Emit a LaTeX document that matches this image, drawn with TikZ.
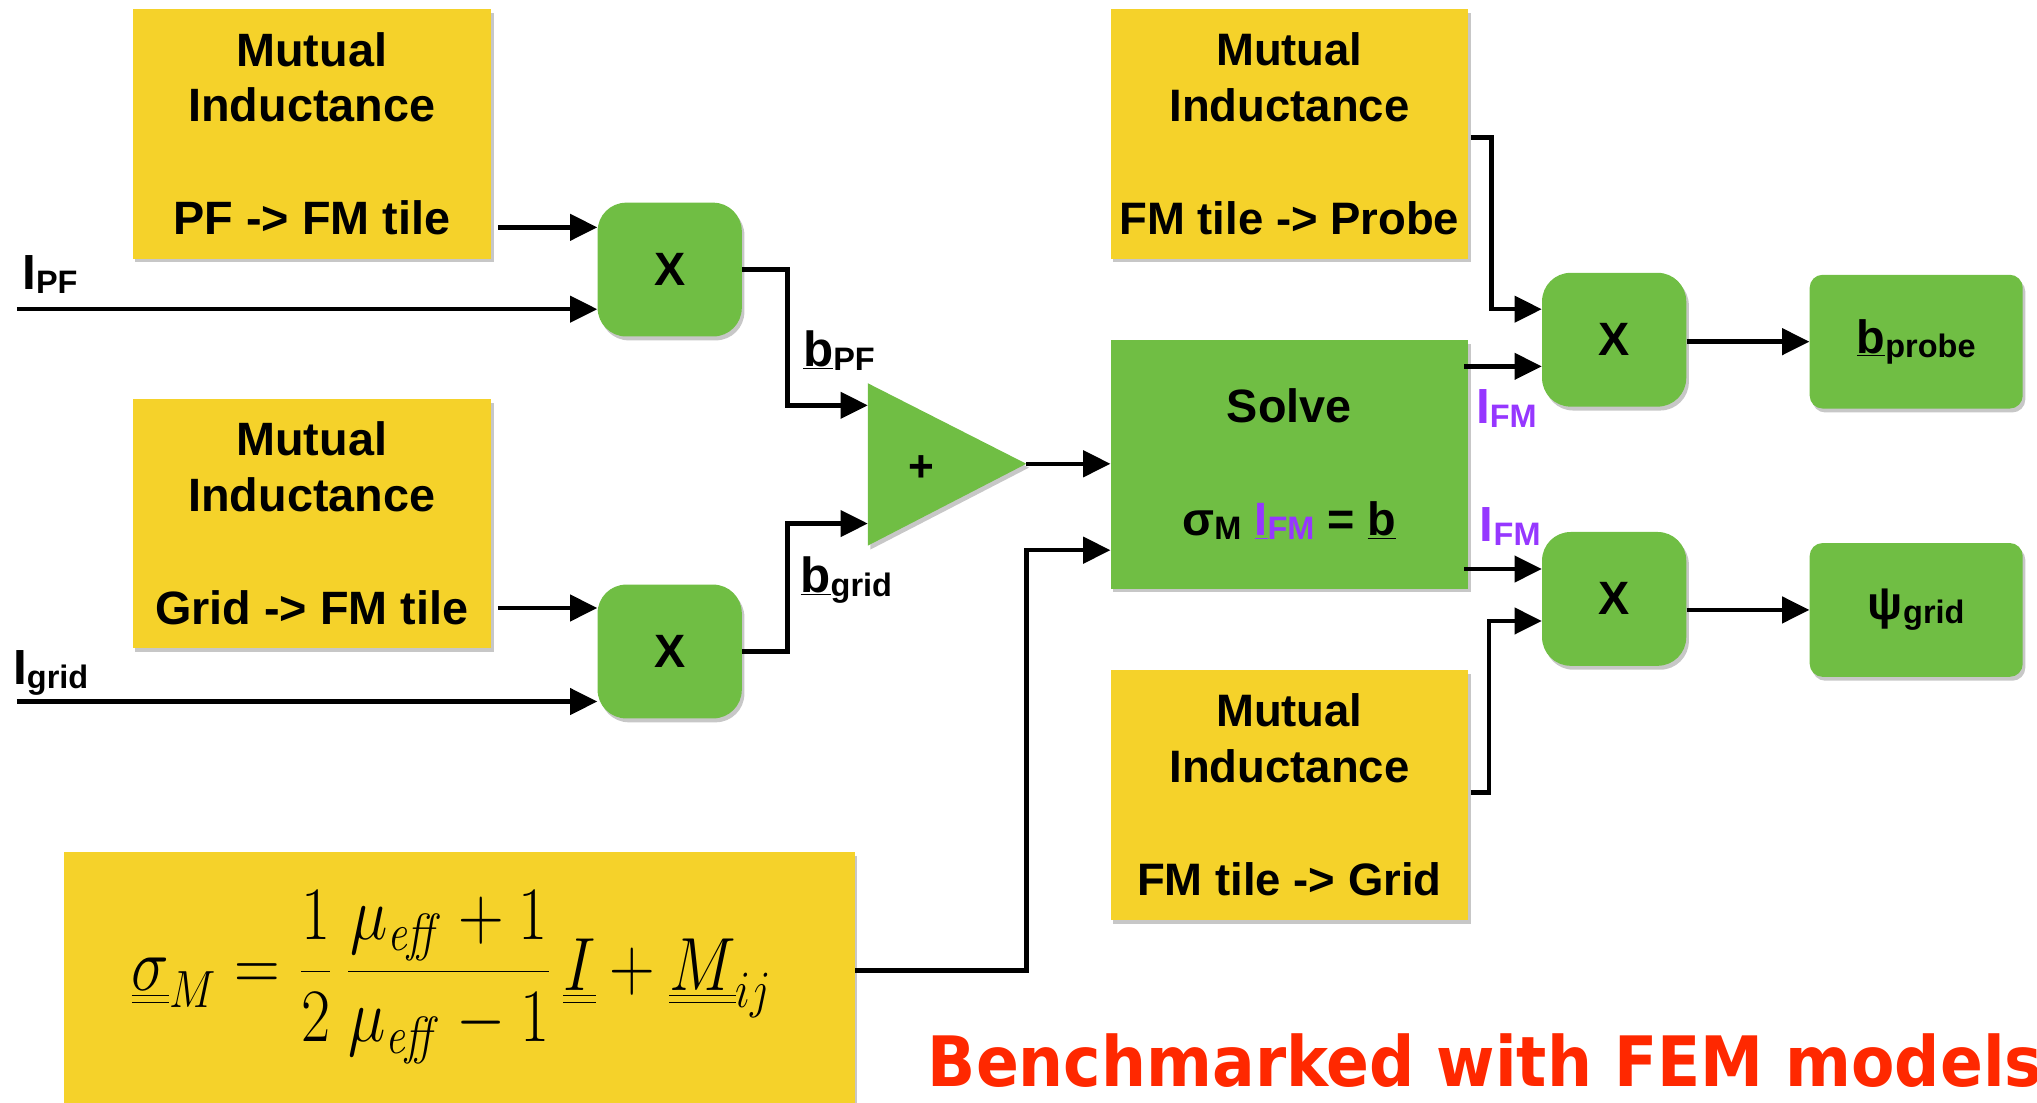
\documentclass[tikz,border=0pt]{standalone}
\usepackage[no-math]{fontspec}
\setmainfont{Liberation Sans}
\newfontfamily\redfont{DejaVu Sans}
\usetikzlibrary{arrows.meta,shadows,calc}
\definecolor{myyellow}{RGB}{245,210,42}
\definecolor{mygreen}{RGB}{112,190,68}
\definecolor{mypurple}{RGB}{150,55,255}
\definecolor{myred}{RGB}{255,40,0}
\newcommand\lsub[1]{\raisebox{-3pt}{\fontsize{25}{25}\selectfont #1}}
\begin{document}
\begin{tikzpicture}[x=1pt,y=-1pt,
  shad/.style={drop shadow={shadow xshift=2pt,shadow yshift=-3pt,opacity=0.22,fill=black}},
  ybox/.style={shad,fill=myyellow,inner sep=0pt,align=center,font=\fontsize{36}{43}\selectfont\bfseries,minimum width=276pt,minimum height=192pt},
  xbox/.style={shad,fill=mygreen,rounded corners=22pt,minimum width=111pt,minimum height=103pt,font=\fontsize{36}{36}\selectfont\bfseries},
  obox/.style={shad,fill=mygreen,rounded corners=10pt,minimum width=164pt,minimum height=103pt,font=\fontsize{36}{36}\selectfont\bfseries},
  lbl/.style={anchor=base west,inner sep=0pt,font=\fontsize{38}{38}\selectfont\bfseries},
  arr/.style={line width=3.5pt,-{Triangle[length=21pt,width=20pt]},line join=miter},
]
\useasboundingbox (0,0) rectangle (1568,849);
\clip (0,0) rectangle (1568,849);

% yellow boxes
\node[ybox] (A) at (240,103) {Mutual\\Inductance\\[44pt]PF -> FM tile};
\node[ybox] (B) at (240,403) {Mutual\\Inductance\\[44pt]Grid -> FM tile};
\node[ybox,minimum width=275pt,font=\fontsize{35}{43}\selectfont\bfseries] (C) at (992.5,103) {Mutual\\Inductance\\[44pt]FM tile -> Probe};
\node[ybox,minimum width=275pt,font=\fontsize{35}{43}\selectfont\bfseries] (D) at (992.5,612) {Mutual\\Inductance\\[44pt]FM tile -> Grid};

% formula box
\node[shad,fill=myyellow,minimum width=609pt,minimum height=214pt,inner sep=0pt] (F) at (353.5,763) {};
\node[inner sep=0pt] (Ftext) at (348,752) {\scalebox{2.35}[2.8]{\huge$\displaystyle \underline{\underline{\sigma}}_{M} = \frac{1}{2}\,\frac{\mu_{\mathit{eff}}+1}{\mu_{\mathit{eff}}-1}\,\underline{\underline{I}} + \underline{\underline{M}}_{ij}$}};

% green multiply boxes
\node[xbox] (X1) at (515.5,207.5) {X};
\node[xbox] (X2) at (515.5,501.5) {X};
\node[xbox] (X3) at (1242.5,261.5) {X};
\node[xbox] (X4) at (1242.5,461) {X};

% summation triangle
\path[fill=mygreen,shad] (668,295) coordinate (Ttop) -- (790,357) coordinate (Ttip) -- (668,420) coordinate (Tbot) -- cycle;
\node[font=\fontsize{34}{34}\selectfont\bfseries] (plus) at (709,361) {+};
\coordinate (Tin1) at (668,312);
\coordinate (Tin2) at (668,403);

% solve box
\node[shad,fill=mygreen,minimum width=275pt,minimum height=191pt,align=center,font=\fontsize{36}{43}\selectfont\bfseries] (S) at (992.5,357.5)
  {Solve\\[44pt]σ\lsub{M} \textcolor{mypurple}{\underline{I}\lsub{FM}} = \underline{b}};

% output boxes
\node[obox] (P) at (1475,263) {\underline{b}\lsub{probe}};
\node[obox] (G) at (1475,469.5) {ψ\lsub{grid}};

% connectors
\coordinate (a1) at ([xshift=5pt,yshift=-72pt]A.east);
\draw[arr] (a1) -- (a1 -| X1.west);
\coordinate (ipf) at (13,238);
\draw[arr] (ipf) -- (ipf -| X1.west);
\draw[arr] (X1.east) -- ++(35,0) |- (Tin1);
\coordinate (b1) at ([xshift=5pt,yshift=-65pt]B.east);
\draw[arr] (b1) -- (b1 -| X2.west);
\coordinate (igrid) at (13,540);
\draw[arr] (igrid) -- (igrid -| X2.west);
\draw[arr] (X2.east) -- ++(35,0) |- (Tin2);
\draw[arr] (Ttip) -- (Ttip -| S.west);
\coordinate (f1) at ([yshift=16pt]F.east);
\draw[arr] (f1) -- ++(132,0) |- ([yshift=-66pt]S.west);
\coordinate (c1) at ([xshift=2pt,yshift=-3pt]C.east);
\draw[arr] (c1) -- ++(16,0) |- ([yshift=23.5pt]X3.west);
\coordinate (s1) at ([xshift=-3pt,yshift=75.5pt]S.east);
\draw[arr] (s1) -- (s1 -| X3.west);
\coordinate (s2) at ([xshift=-3pt,yshift=-80.5pt]S.east);
\draw[arr] (s2) -- (s2 -| X4.west);
\coordinate (d1) at ([xshift=2pt,yshift=2pt]D.east);
\draw[arr] (d1) -- ++(14,0) |- ([yshift=-17pt]X4.west);
\draw[arr] (X3.east |- P.west) -- (P.west);
\draw[arr] (X4.east |- G.west) -- (G.west);

% labels
\node[lbl] (lIPF) at (17,223) {I\lsub{PF}};
\node[lbl] (lIgrid) at (10,527) {I\lsub{grid}};
\node[lbl] (lbPF) at (618,282) {\underline{b}\lsub{PF}};
\node[lbl] (lbgrid) at (616,456) {\underline{b}\lsub{grid}};
\node[lbl,text=mypurple] (lIFM1) at (1136,326) {I\lsub{FM}};
\node[lbl,text=mypurple] (lIFM2) at (1139,417) {I\lsub{FM}};

% red note
\node[anchor=base west,inner sep=0pt,text=myred] (bench) at (714,836)
  {\redfont\bfseries\fontsize{53.5}{60}\selectfont\scalebox{0.91}[1]{Benchmarked with FEM models}};
\end{tikzpicture}
\end{document}
